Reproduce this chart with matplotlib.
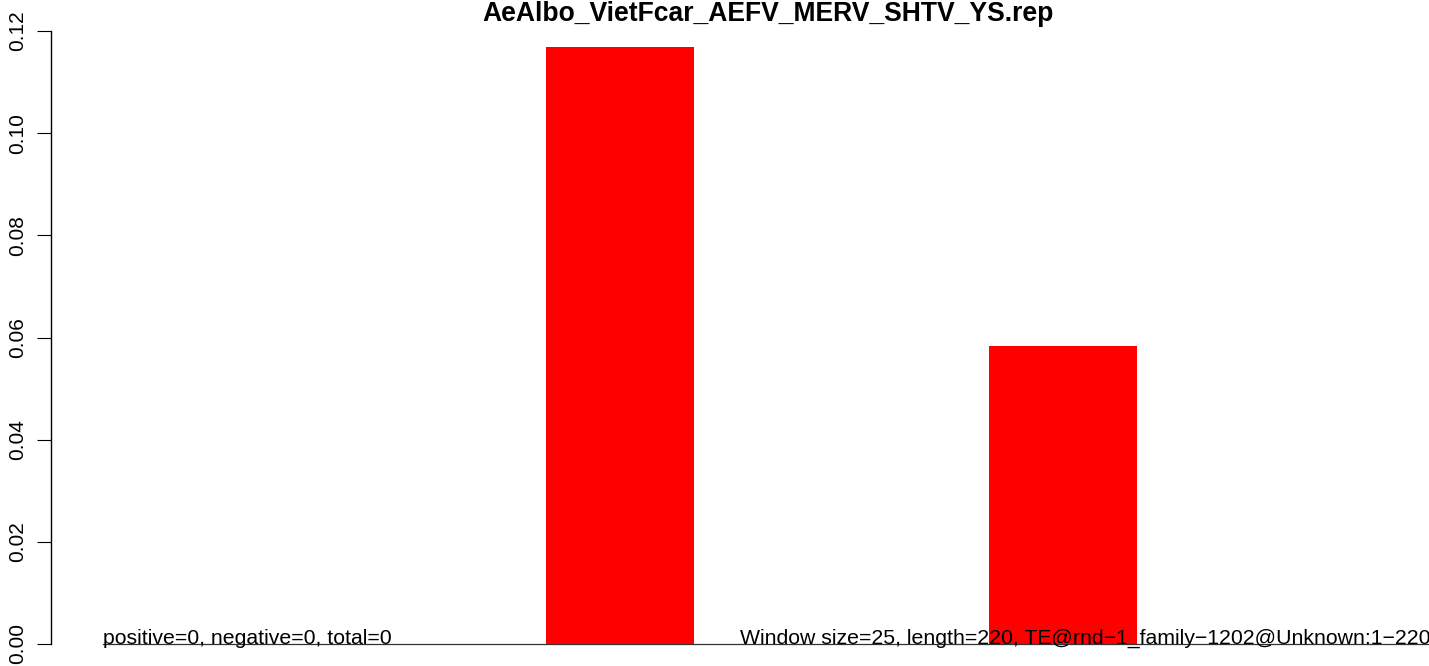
import matplotlib.pyplot as plt
import numpy as np

plt.rcParams['font.family'] = ['Liberation Sans', 'DejaVu Sans']

title = 'AeAlbo_VietFcar_AEFV_MERV_SHTV_YS.rep'
values = [0.0, 0.1169, 0.0583]
yticks = [0.00, 0.02, 0.04, 0.06, 0.08, 0.10, 0.12]
left_note = 'positive=0, negative=0, total=0'
right_note = 'Window size=25, length=220, TE@rnd\u22121_family\u22121202@Unknown:1\u2212220'

W, H = 1429, 666
fig = plt.figure(figsize=(W / 100, H / 100), dpi=100)
ax = fig.add_axes([51 / W, 22 / H, (W - 51) / W, 613 / H])

pos = np.arange(len(values))
width = 148 / 443
ax.bar(pos, values, width=width, color='#ff0000', linewidth=0)
xmax = (W - 51 - 126) / 443
ax.plot([pos[0] - width / 2, xmax], [0, 0], color='#333333', lw=0.9, clip_on=False)

ax.set_xlim(-126 / 443, xmax)
ax.set_ylim(0, 0.12)
ax.set_yticks(yticks)
ax.set_yticklabels(['%.2f' % v for v in yticks])
for s in ['top', 'right', 'bottom']:
    ax.spines[s].set_visible(False)
ax.spines['left'].set_linewidth(1)
ax.set_xticks([])
ax.tick_params(axis='y', length=10, width=0.8, labelsize=15, pad=7.5)
plt.setp(ax.get_yticklabels(), rotation=90, va='center')

ax.text(pos[0] - width / 2, 0, left_note, fontsize=15.3, ha='left', va='baseline')
ax.text(563 / 443, 0, right_note, fontsize=15.3, ha='left', va='baseline', clip_on=False)

fig.text(768 / W, 1 - 1 / H, title, fontsize=19.1, fontweight='bold', ha='center', va='top')

fig.savefig('out.png', dpi=100)
